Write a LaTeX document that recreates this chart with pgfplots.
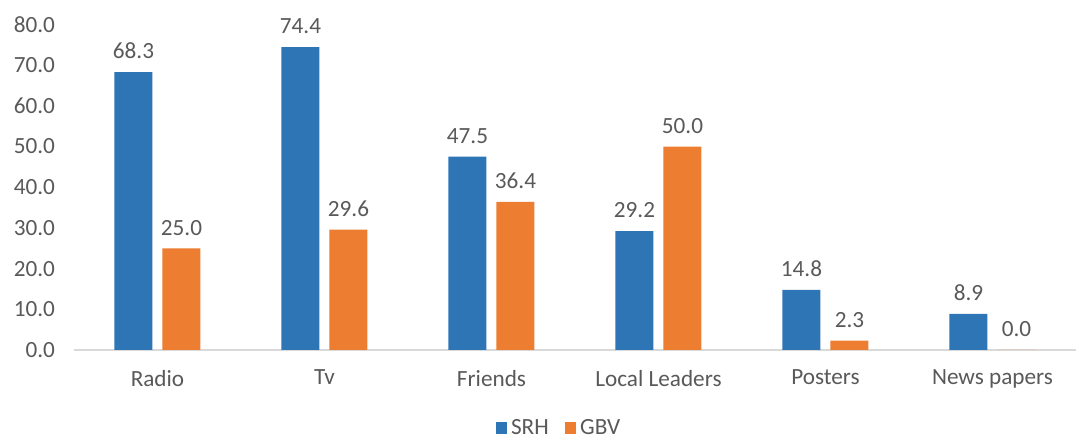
\documentclass[border=0pt]{standalone}
\usepackage{fontspec}
\setmainfont{Carlito}
\usepackage{pgfplots}
\pgfplotsset{compat=1.18}
\definecolor{srh}{HTML}{2E75B6}
\definecolor{gbv}{HTML}{ED7D31}
\definecolor{txt}{HTML}{595959}
\definecolor{axln}{HTML}{D9D9D9}

\begin{document}
\begin{tikzpicture}
\begin{axis}[
  scale only axis,
  width=501pt, height=162.8pt,
  ybar=5pt, bar width=19pt,
  xmin=-0.5, xmax=5.5,
  ymin=0, ymax=80,
  xtick=data,
  xticklabels={Radio,Tv,Friends,Local Leaders,Posters,News papers},
  ytick={0,10,...,80},
  yticklabel style={/pgf/number format/fixed, /pgf/number format/fixed zerofill, /pgf/number format/precision=1, xshift=-6pt},
  /pgf/number format/assume math mode=true,
  axis x line*=bottom,
  axis y line*=left,
  y axis line style={draw=none},
  x axis line style={axln, line width=0.8pt, -},
  major tick length=0pt,
  tick label style={font=\fontsize{11.6}{13}\selectfont, color=txt},
  xticklabel style={yshift=-6.5pt},
  nodes near coords,
  nodes near coords style={/pgf/number format/fixed, /pgf/number format/fixed zerofill, /pgf/number format/precision=1},
  every node near coord/.append style={font=\fontsize{11.6}{13}\selectfont, color=txt, yshift=3pt},
  legend style={font=\fontsize{11.6}{13}\selectfont, text=txt, at={(0.485,-0.24)}, anchor=center, legend columns=-1, draw=none, /tikz/every even column/.append style={column sep=6pt}},
  legend image code/.code={\fill[#1] (0cm,-0.1cm) rectangle (0.2cm,0.1cm);},
  clip=false,
]
\addplot[fill=srh, draw=none] coordinates {(0,68.3) (1,74.4) (2,47.5) (3,29.2) (4,14.8) (5,8.9)};
\addlegendentry{SRH}
\addplot[fill=gbv, draw=none] coordinates {(0,25.0) (1,29.6) (2,36.4) (3,50.0) (4,2.3) (5,0.0)};
\addlegendentry{GBV}
\end{axis}
\pgfresetboundingbox
\path[use as bounding box] (-37pt,-44.5pt) rectangle (502pt,175pt);
\end{tikzpicture}
\end{document}
